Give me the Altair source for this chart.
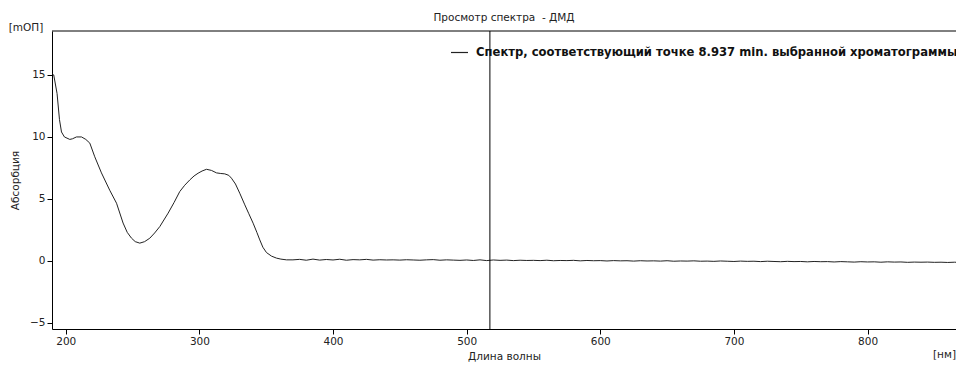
import altair as alt
import pandas as pd

# Spectrum: main absorption region (wavelength nm, absorbance mAU)
peak_nm = [190, 191, 193.5, 195.3, 196.8, 199, 203, 205, 208, 211.8, 215, 218, 221.7,
           226.7, 232.9, 238, 242.9, 246, 249.2, 252, 255.4, 259, 262.9, 266.5, 270.4,
           276.6, 281, 285.3, 289, 292.8, 296, 299, 302, 305.3, 309, 312.8, 316, 319,
           322, 324, 327, 330.2, 334, 337, 340.2, 343, 345.2, 347.5, 350.2, 354, 357.7,
           361, 365.2]
peak_val = [15.1, 15.0, 13.5, 11.4, 10.4, 10.0, 9.8, 9.85, 10.0, 10.0, 9.8, 9.5, 8.4,
            7.1, 5.7, 4.65, 3.05, 2.3, 1.83, 1.55, 1.43, 1.55, 1.83, 2.25, 2.77,
            3.85, 4.7, 5.59, 6.1, 6.53, 6.85, 7.07, 7.25, 7.39, 7.3, 7.1, 7.05, 7.02,
            6.9, 6.67, 6.2, 5.46, 4.52, 3.8, 3.04, 2.3, 1.69, 1.1, 0.67, 0.38, 0.22,
            0.14, 0.08]

# Baseline region, every 5 nm from 370 to 870 nm (plus end point 872)
base_nm = list(range(370, 871, 5)) + [872]
base_val = [0.08, 0.12, 0.05, 0.14, 0.06, 0.11, 0.07, 0.13, 0.05, 0.10,
            0.08, 0.12, 0.06, 0.09, 0.07, 0.08, 0.06, 0.09, 0.07, 0.05,
            0.08, 0.10, 0.05, 0.08, 0.06, 0.04, 0.07, 0.03, 0.08, 0.02,
            0.07, 0.04, 0.06, 0.02, 0.05, 0.03, 0.04, 0.02, 0.05, 0.01,
            0.03, 0.02, 0.04, 0.00, 0.03, 0.01, 0.02, -0.01, 0.02, 0.00,
            0.01, -0.02, 0.01, -0.01, 0.00, -0.02, 0.01, -0.03, -0.01, -0.02,
            0.00, -0.03, -0.02, -0.04, -0.01, -0.03, -0.05, -0.02, -0.04, -0.03,
            -0.06, -0.03, -0.05, -0.07, -0.04, -0.06, -0.05, -0.08, -0.05, -0.07,
            -0.06, -0.09, -0.06, -0.08, -0.10, -0.07, -0.09, -0.08, -0.11, -0.08,
            -0.10, -0.09, -0.12, -0.10, -0.11, -0.10, -0.12, -0.11, -0.13, -0.11,
            -0.13, -0.12]

series_label = "Спектр, соответствующий точке 8.937 min. выбранной хроматограммы"
cursor_nm = [517.4]
x_ticks = [200, 300, 400, 500, 600, 700, 800]
y_ticks = [-5, 0, 5, 10, 15]
x_domain = [189.7, 866.2]
y_domain = [-5.5, 18.55]

FONT = "DejaVu Sans"
INK = "#222222"
W = 904

df = pd.DataFrame({
    "nm": peak_nm + base_nm,
    "abs": peak_val + base_val,
    "series": series_label,
})

xs = alt.Scale(domain=x_domain, nice=False, zero=False)
ys = alt.Scale(domain=y_domain, nice=False, zero=False)

line = alt.Chart(df).mark_line(strokeWidth=1, interpolate="linear", clip=True).encode(
    x=alt.X("nm:Q", scale=xs,
            axis=alt.Axis(values=x_ticks, title="Длина волны", titlePadding=5)),
    y=alt.Y("abs:Q", scale=ys,
            axis=alt.Axis(values=y_ticks, title="Абсорбция", titleX=-32)),
    color=alt.Color("series:N",
                    scale=alt.Scale(range=[INK]),
                    legend=alt.Legend(title=None, orient="none", legendX=398, legendY=12,
                                      symbolType="stroke", symbolSize=289,
                                      symbolStrokeWidth=1.2, labelOffset=7,
                                      labelFont=FONT, labelFontSize=11.6,
                                      labelFontWeight="bold", labelColor="#111111",
                                      padding=0, labelLimit=1000)),
)

cursor = alt.Chart(pd.DataFrame({"nm": cursor_nm})).mark_rule(
    color="black", strokeWidth=1).encode(x=alt.X("nm:Q", scale=xs))

top_border = alt.Chart(pd.DataFrame({"a": [0]})).mark_rule(
    color="black", strokeWidth=1).encode(
    x=alt.value(0), x2=alt.value(W), y=alt.value(0))

unit_y = alt.Chart(pd.DataFrame({"t": ["[mОП]"]})).mark_text(
    font=FONT, fontSize=10.5, color=INK, align="center", baseline="middle").encode(
    text="t:N", x=alt.value(-26), y=alt.value(-3))

unit_x = alt.Chart(pd.DataFrame({"t": ["[нм]"]})).mark_text(
    font=FONT, fontSize=10.5, color=INK, align="right", baseline="middle").encode(
    text="t:N", x=alt.value(W), y=alt.value(324))

chart = alt.layer(line, cursor, top_border, unit_y, unit_x).properties(
    width=W, height=298,
    title=alt.TitleParams("Просмотр спектра\u00a0 - ДМД", anchor="middle", frame="group",
                          font=FONT, fontSize=10.5, fontWeight="normal", color=INK,
                          offset=0),
    autosize=alt.AutoSizeParams(type="none"),
    padding={"left": 44, "top": 23, "right": 0, "bottom": 36},
).configure_view(stroke=None).configure_axis(
    grid=False, domainColor="black", tickColor="black", tickSize=5,
    labelFont=FONT, labelFontSize=10.5, labelColor=INK, labelPadding=2,
    titleFont=FONT, titleFontSize=10.5, titleFontWeight="normal", titleColor=INK,
)

chart.save("out.html", embed_options={"renderer": "svg", "actions": False})
